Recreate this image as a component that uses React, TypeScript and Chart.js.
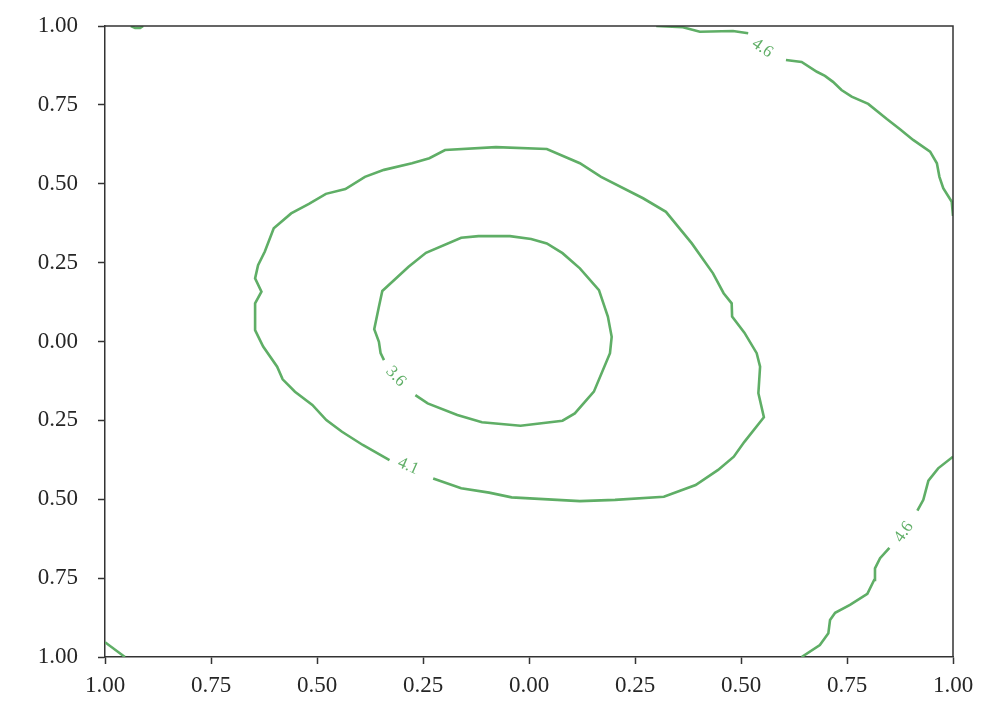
import React, { useEffect, useRef } from 'react';
import { Chart, registerables } from 'chart.js';

Chart.register(...registerables);

// Axis ticks (labels as printed in the reference, minus signs absent)
const xTickValues = [-1, -0.75, -0.5, -0.25, 0, 0.25, 0.5, 0.75, 1];
const xTickLabels = ['1.00', '0.75', '0.50', '0.25', '0.00', '0.25', '0.50', '0.75', '1.00'];
const yTickValues = [-1, -0.75, -0.5, -0.25, 0, 0.25, 0.5, 0.75, 1];
const yTickLabels = ['1.00', '0.75', '0.50', '0.25', '0.00', '0.25', '0.50', '0.75', '1.00'];

// Contour level 3.6 (inner loop, open at its label)
const c36X = [-0.268, -0.239, -0.169, -0.111, -0.020, 0.079, 0.108, 0.153, 0.191, 0.195, 0.186, 0.165, 0.120, 0.079, 0.042, 0.005, -0.045, -0.119, -0.160, -0.243, -0.284, -0.346, -0.354, -0.365, -0.354, -0.350, -0.342];
const c36Y = [-0.170, -0.196, -0.233, -0.256, -0.267, -0.251, -0.228, -0.159, -0.037, 0.015, 0.079, 0.163, 0.232, 0.280, 0.311, 0.325, 0.334, 0.334, 0.329, 0.281, 0.237, 0.160, 0.110, 0.039, -0.001, -0.037, -0.059];

// Contour level 4.1 (outer loop, open at its label)
const c41X = [-0.226, -0.160, -0.094, -0.041, 0.120, 0.203, 0.318, 0.393, 0.446, 0.483, 0.508, 0.554, 0.541, 0.545, 0.537, 0.508, 0.479, 0.478, 0.459, 0.434, 0.384, 0.323, 0.269, 0.170, 0.120, 0.042, -0.078, -0.198, -0.235, -0.276, -0.342, -0.387, -0.433, -0.479, -0.519, -0.561, -0.602, -0.623, -0.639, -0.646, -0.631, -0.646, -0.646, -0.627, -0.594, -0.581, -0.552, -0.511, -0.478, -0.441, -0.392, -0.329];
const c41Y = [-0.434, -0.465, -0.479, -0.494, -0.506, -0.502, -0.492, -0.455, -0.407, -0.365, -0.318, -0.240, -0.164, -0.080, -0.037, 0.028, 0.079, 0.121, 0.153, 0.216, 0.311, 0.411, 0.454, 0.522, 0.565, 0.610, 0.616, 0.607, 0.581, 0.565, 0.544, 0.522, 0.483, 0.468, 0.436, 0.406, 0.359, 0.285, 0.242, 0.200, 0.158, 0.121, 0.036, -0.016, -0.080, -0.120, -0.159, -0.201, -0.249, -0.286, -0.328, -0.376];

// Contour level 4.6, top-right (two pieces around label)
const c46aX = [0.300, 0.363, 0.403, 0.481, 0.517];
const c46aY = [1.000, 0.996, 0.982, 0.984, 0.977];
const c46bX = [0.606, 0.643, 0.679, 0.698, 0.717, 0.737, 0.761, 0.800, 0.844, 0.875, 0.906, 0.946, 0.962, 0.968, 0.977, 0.997, 1.000];
const c46bY = [0.892, 0.886, 0.855, 0.842, 0.823, 0.797, 0.776, 0.753, 0.705, 0.673, 0.639, 0.602, 0.565, 0.522, 0.486, 0.443, 0.398];

// Contour level 4.6, bottom-right (two pieces around label)
const c46cX = [0.643, 0.686, 0.706, 0.710, 0.722, 0.757, 0.798, 0.814, 0.816, 0.828, 0.850];
const c46cY = [-1.000, -0.962, -0.925, -0.883, -0.860, -0.835, -0.800, -0.756, -0.719, -0.687, -0.654];
const c46dX = [0.916, 0.930, 0.942, 0.965, 1.000];
const c46dY = [-0.536, -0.502, -0.441, -0.402, -0.365];

// Corner fragments of the 4.6 level
const cTLX = [-0.939, -0.929, -0.917, -0.910];
const cTLY = [1.000, 0.994, 0.994, 1.000];
const cBLX = [-1.000, -0.953];
const cBLY = [-0.953, -1.000];

// Inline contour labels
const labelTexts = ['3.6', '4.1', '4.6', '4.6'];
const labelX = [-0.314, -0.285, 0.550, 0.884];
const labelY = [-0.111, -0.395, 0.930, -0.604];
const labelAngleDeg = [47, 24, 35, -55];

const GREEN = '#5fae66';
const SPINE = '#333333';
const FONT = "'Liberation Serif', 'Times New Roman', serif";

const toPts = (xs: number[], ys: number[]) => xs.map((x, i) => ({ x, y: ys[i] }));

export default function App() {
  const ref = useRef<HTMLCanvasElement | null>(null);

  useEffect(() => {
    document.body.style.margin = '0';
    const canvas = ref.current;
    if (!canvas) return;

    const segs = [
      [c36X, c36Y],
      [c41X, c41Y],
      [c46aX, c46aY],
      [c46bX, c46bY],
      [c46cX, c46cY],
      [c46dX, c46dY],
      [cTLX, cTLY],
      [cBLX, cBLY],
    ];

    const framePlugin = {
      id: 'frameAndLabels',
      afterDatasetsDraw(chart: any) {
        const ctx = chart.ctx;
        const xs = chart.scales.x;
        const ys = chart.scales.y;
        ctx.save();
        ctx.fillStyle = GREEN;
        ctx.font = `17px ${FONT}`;
        ctx.textAlign = 'center';
        ctx.textBaseline = 'middle';
        labelTexts.forEach((t, i) => {
          const px = xs.getPixelForValue(labelX[i]);
          const py = ys.getPixelForValue(labelY[i]);
          ctx.save();
          ctx.translate(px, py);
          ctx.rotate((labelAngleDeg[i] * Math.PI) / 180);
          ctx.fillText(t, 0, 0);
          ctx.restore();
        });
        ctx.restore();
      },
      afterDraw(chart: any) {
        const { left, right, top, bottom } = chart.chartArea;
        const ctx = chart.ctx;
        ctx.save();
        ctx.strokeStyle = SPINE;
        ctx.lineWidth = 1.5;
        ctx.beginPath();
        ctx.moveTo(left, top);
        ctx.lineTo(right, top);
        ctx.lineTo(right, bottom);
        ctx.stroke();
        ctx.restore();
      },
    };

    const chart = new Chart(canvas, {
      type: 'scatter',
      data: {
        datasets: segs.map(([xs, ys]) => ({
          data: toPts(xs as number[], ys as number[]),
          showLine: true,
          borderColor: GREEN,
          borderWidth: 2.6,
          pointRadius: 0,
          pointHoverRadius: 0,
          fill: false,
          tension: 0,
        })),
      },
      options: {
        animation: false,
        responsive: false,
        devicePixelRatio: 1,
        events: [],
        layout: { padding: { top: 26, right: 44, left: 0, bottom: 0 } },
        plugins: {
          legend: { display: false },
          tooltip: { enabled: false },
          title: { display: false },
        },
        scales: {
          x: {
            type: 'linear',
            min: -1,
            max: 1,
            afterBuildTicks: (scale: any) => {
              scale.ticks = xTickValues.map((v) => ({ value: v }));
            },
            afterFit: (scale: any) => {
              scale.height = 57;
              scale.paddingLeft = 0;
              scale.paddingRight = 0;
            },
            ticks: {
              autoSkip: false,
              maxRotation: 0,
              padding: 8,
              color: '#262626',
              font: { family: FONT, size: 23 },
              callback: (_v: any, i: number) => xTickLabels[i],
            },
            grid: {
              display: true,
              drawOnChartArea: false,
              drawTicks: true,
              tickLength: 7,
              tickColor: SPINE,
              tickWidth: 1.5,
            },
            border: { display: true, color: SPINE, width: 1.5 },
          },
          y: {
            type: 'linear',
            min: -1,
            max: 1,
            afterBuildTicks: (scale: any) => {
              scale.ticks = yTickValues.map((v) => ({ value: v }));
            },
            afterFit: (scale: any) => {
              scale.width = 105;
              scale.paddingTop = 0;
              scale.paddingBottom = 0;
            },
            ticks: {
              autoSkip: false,
              padding: 20,
              color: '#262626',
              font: { family: FONT, size: 23 },
              callback: (_v: any, i: number) => yTickLabels[i],
            },
            grid: {
              display: true,
              drawOnChartArea: false,
              drawTicks: true,
              tickLength: 7,
              tickColor: SPINE,
              tickWidth: 1.5,
            },
            border: { display: true, color: SPINE, width: 1.5 },
          },
        },
      } as any,
      plugins: [framePlugin],
    });

    return () => {
      chart.destroy();
    };
  }, []);

  return (
    <div style={{ width: 997, height: 714, background: '#ffffff' }}>
      <canvas ref={ref} width={997} height={714} style={{ display: 'block', width: 997, height: 714 }} />
    </div>
  );
}
